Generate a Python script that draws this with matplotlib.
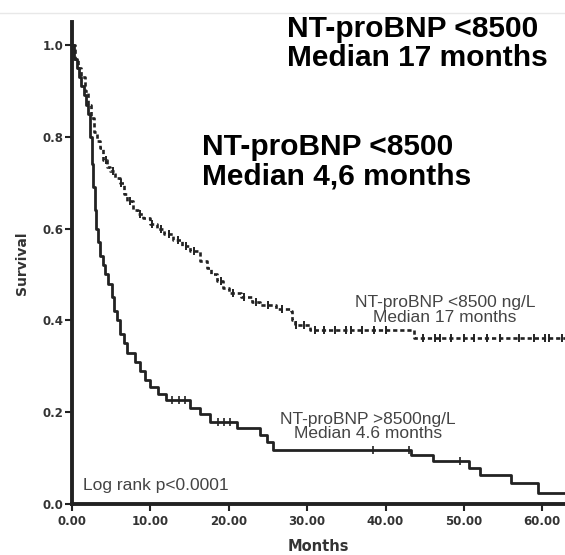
import numpy as np
import matplotlib
matplotlib.use("Agg")
import matplotlib.pyplot as plt
from matplotlib.lines import Line2D

# Kaplan-Meier estimates, NT-proBNP < 8500 ng/L
high_months = [0, 0.4, 0.8, 1.2, 1.6, 2.0, 2.4, 2.8, 3.2, 3.6, 4.0, 4.5, 4.9,
               5.5, 6.1, 6.6, 7.0, 7.8, 8.4, 9.0, 9.9, 10.8, 11.8, 12.9, 14.0,
               15.0, 16.3, 17.2, 17.8, 18.5, 19.3, 20.0, 21.5, 23.0, 24.0,
               26.0, 27.9, 28.1, 28.4, 30.4, 43.6, 62.9]
high_surv = [1.0, 0.97, 0.95, 0.93, 0.90, 0.87, 0.84, 0.81, 0.79, 0.775, 0.75,
             0.735, 0.725, 0.71, 0.70, 0.675, 0.66, 0.64, 0.632, 0.622, 0.61,
             0.60, 0.588, 0.574, 0.563, 0.552, 0.53, 0.515, 0.50, 0.485, 0.47,
             0.46, 0.45, 0.44, 0.433, 0.425, 0.42, 0.40, 0.39, 0.378, 0.361,
             0.361]
high_censor = [4.3, 5.2, 6.3, 7.4, 8.7, 10.2, 11.3, 12.4, 13.5, 14.5, 15.6,
               19.0, 20.5, 22.0, 23.5, 25.0, 26.8, 28.6, 29.6, 31.0, 32.2,
               33.5, 35.0, 35.6, 37.0, 38.5, 40.0, 44.8, 46.3, 47.0, 48.4,
               50.0, 51.3, 53.0, 54.6, 57.0, 59.0, 60.3, 60.8, 62.5]

# Kaplan-Meier estimates, NT-proBNP > 8500 ng/L
low_months = [0, 0.3, 0.6, 0.9, 1.2, 1.5, 1.8, 2.1, 2.3, 2.5, 2.7, 2.9, 3.1,
              3.3, 3.6, 3.9, 4.2, 4.6, 5.1, 5.4, 5.7, 6.1, 6.6, 7.0, 8.0, 8.7,
              9.3, 10.0, 11.0, 12.0, 15.0, 16.3, 17.6, 21.0, 24.0, 24.9, 25.7,
              43.3, 46.0, 50.6, 52.1, 56.0, 59.5, 62.9]
low_surv = [1.0, 0.97, 0.95, 0.93, 0.91, 0.89, 0.87, 0.85, 0.80, 0.74, 0.69,
            0.64, 0.60, 0.57, 0.54, 0.52, 0.50, 0.48, 0.45, 0.42, 0.40, 0.37,
            0.35, 0.33, 0.31, 0.29, 0.27, 0.255, 0.24, 0.226, 0.21, 0.195,
            0.178, 0.165, 0.15, 0.135, 0.117, 0.106, 0.093, 0.079, 0.063,
            0.045, 0.023, 0.023]
low_censor = [12.8, 13.6, 14.4, 18.6, 19.4, 20.2, 38.4, 43.0, 49.5]

x_ticks = [0, 10, 20, 30, 40, 50, 60]
y_ticks = [0.0, 0.2, 0.4, 0.6, 0.8, 1.0]

ink = "#222222"


def surv_at(months, surv, t):
    idx = np.searchsorted(months, t, side="right") - 1
    return np.asarray(surv)[idx]


fig = plt.figure(figsize=(5.65, 5.55), dpi=100)
ax = fig.add_axes([0.1274, 0.0919, 0.8726, 0.8685])

# survival curves
ax.step(high_months, high_surv, where="post", color=ink, lw=1.9,
        linestyle=(0, (1.6, 1.1)), zorder=3)
ax.plot(high_censor, surv_at(high_months, high_surv, high_censor), ls="none",
        marker="|", ms=6, mew=1.4, color=ink, zorder=3)
ax.step(low_months, low_surv, where="post", color=ink, lw=2.0, zorder=3)
ax.plot(low_censor, surv_at(low_months, low_surv, low_censor), ls="none",
        marker="|", ms=6, mew=1.2, color=ink, zorder=3)

ax.set_xlim(0, 62.9)
ax.set_ylim(0, 1.05)
ax.set_xticks(x_ticks)
ax.set_xticklabels([f"{v:.2f}" for v in x_ticks])
ax.set_yticks(y_ticks)
ax.set_yticklabels([f"{v:.1f}" for v in y_ticks])

for side in ["top", "right"]:
    ax.spines[side].set_visible(False)
for side in ["left", "bottom"]:
    ax.spines[side].set_linewidth(2.8)
    ax.spines[side].set_color(ink)

ax.tick_params(axis="both", direction="out", length=5, width=1.5, color=ink,
               labelsize=8.5, labelcolor="#333333")
ax.tick_params(axis="y", pad=1)
ax.tick_params(axis="x", pad=3)
for lab in ax.get_xticklabels() + ax.get_yticklabels():
    lab.set_fontweight("bold")

ax.set_xlabel("Months", fontsize=10.5, fontweight="bold", color="#333333",
              labelpad=8)
ax.set_ylabel("Survival", fontsize=10, fontweight="bold", color="#333333",
              labelpad=10)

# in-plot labels
small = dict(fontsize=12.5, color="#444444", family="Liberation Sans",
             ha="center", linespacing=0.95)
ax.text(47.6, 0.397, "NT-proBNP <8500 ng/L\nMedian 17 months", **small)
ax.text(37.8, 0.143, "NT-proBNP >8500ng/L\nMedian 4.6 months", **small)
ax.text(1.4, 0.03, "Log rank p<0.0001", fontsize=12.5, color="#444444",
        family="Liberation Sans")

big = dict(fontsize=21.5, fontweight="bold", color="black",
           family="Liberation Sans", linespacing=1.05)
fig.text(0.508, 0.881, "NT-proBNP <8500\nMedian 17 months", **big)
fig.text(0.358, 0.668, "NT-proBNP <8500\nMedian 4,6 months", **big)

# faint frame line across the top
fig.add_artist(Line2D([0, 1], [0.977, 0.977], transform=fig.transFigure,
                      color="#e8e8e8", lw=1))

fig.savefig("out.png", dpi=100)
